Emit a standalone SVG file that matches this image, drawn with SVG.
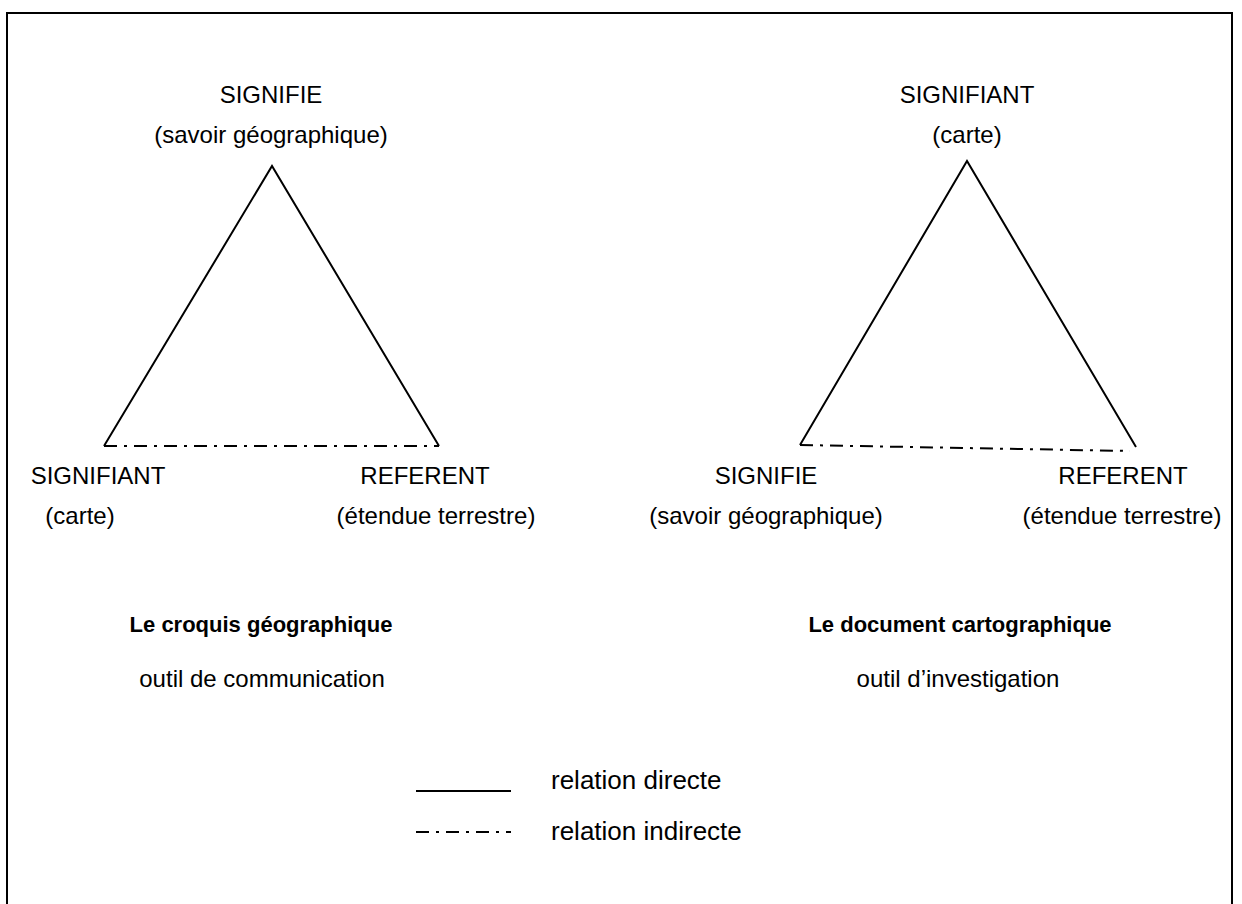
<svg xmlns="http://www.w3.org/2000/svg" width="1242" height="904" viewBox="0 0 1242 904">
<style>
text{font-family:"Liberation Sans",Arial,sans-serif;font-size:24px;fill:#000;text-anchor:middle}
.b{font-weight:bold;font-size:22px}
.l{text-anchor:start;font-size:26px}
.solid{stroke:#000;stroke-width:2;fill:none}
.dd{stroke:#000;stroke-width:2;fill:none;stroke-dasharray:13 7 3 7}
</style>
<rect x="0" y="0" width="1242" height="904" fill="#fff"/>
<rect id="frame" x="7" y="13" width="1225" height="905" fill="none" stroke="#000" stroke-width="2"/>
<g id="connectors">
<polyline class="solid" points="104,446 272,166 439,446"/>
<line class="dd" x1="104" y1="446" x2="439" y2="446"/>
<polyline class="solid" points="800,445 967,161 1136,447"/>
<line class="dd" x1="800" y1="445" x2="1130" y2="451"/>
</g>
<g id="left-signifie"><text x="271" y="103">SIGNIFIE</text><text x="271" y="143">(savoir géographique)</text></g>
<g id="left-signifiant"><text x="98" y="484">SIGNIFIANT</text><text x="80" y="524">(carte)</text></g>
<g id="left-referent"><text x="425" y="484">REFERENT</text><text x="436" y="524">(étendue terrestre)</text></g>
<g id="left-title"><text class="b" x="261" y="632">Le croquis géographique</text><text x="262" y="687">outil de communication</text></g>
<g id="right-signifiant"><text x="967" y="103">SIGNIFIANT</text><text x="967" y="143">(carte)</text></g>
<g id="right-signifie"><text x="766" y="484">SIGNIFIE</text><text x="766" y="524">(savoir géographique)</text></g>
<g id="right-referent"><text x="1123" y="484">REFERENT</text><text x="1122" y="524">(étendue terrestre)</text></g>
<g id="right-title"><text class="b" x="960" y="632">Le document cartographique</text><text x="958" y="687">outil d’investigation</text></g>
<g id="legend">
<line class="solid" x1="416" y1="791" x2="511" y2="791"/>
<line class="dd" x1="416" y1="832" x2="511" y2="832"/>
<text class="l" x="551" y="789">relation directe</text>
<text class="l" x="551" y="840">relation indirecte</text>
</g>
</svg>
